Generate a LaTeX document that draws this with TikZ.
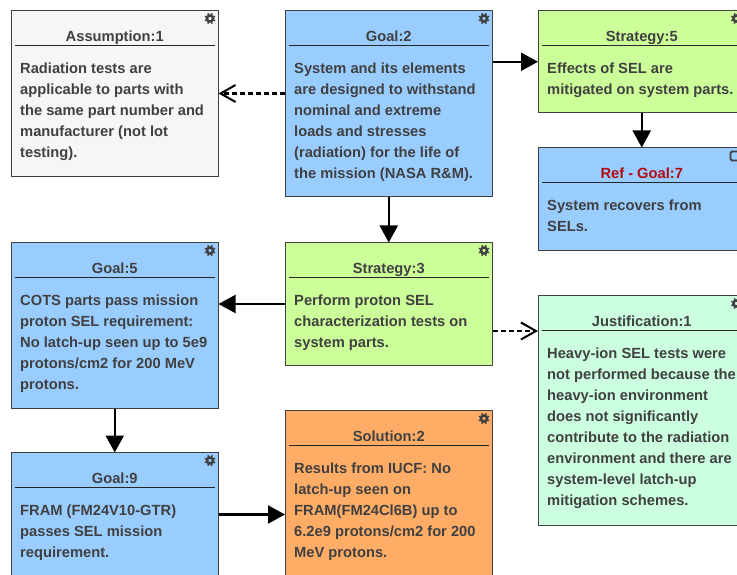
\documentclass[tikz,border=0pt]{standalone}
\usepackage{fontspec}
\setmainfont{Liberation Sans}
\usepackage{xcolor}
\usetikzlibrary{calc}
\usetikzlibrary{arrows.meta}

\definecolor{goalBlue}{HTML}{99CCFF}
\definecolor{stratGreen}{HTML}{CCFF99}
\definecolor{solOrange}{HTML}{FFAD66}
\definecolor{justMint}{HTML}{CCFFE0}
\definecolor{assumGrey}{HTML}{F6F6F6}
\definecolor{inkGrey}{HTML}{404040}
\definecolor{refRed}{HTML}{B00C14}

\tikzset{
  gsnBox/.style = {draw = black!75, line width = 1pt, anchor = north west,
    minimum width = 207.5pt, inner sep = 0pt, outer sep = 0pt},
  gsnText/.style = {text = inkGrey, font = \bfseries\fontsize{14.7}{21}\selectfont,
    inner sep = 0pt},
  solidArrow/.style = {line width = 2.2pt, black, -{Triangle[length = 17pt, width = 18pt]}},
  dashArrow/.style = {line width = 2.2pt, black, dash pattern = on 5pt off 3pt,
    -{Straight Barb[length = 15pt, width = 17pt, line width = 2pt]}},
  gearIcon/.pic = {
    \draw[black!75, line width = 2.4pt] (0,0) circle (3pt);
    \foreach \ang in {22,67,...,337}
      \draw[black!75, line width = 1.5pt] (\ang:3.5pt) -- (\ang:5.6pt);
  }
}

% box with heading, rule and body text
\newcommand{\gsnTexts}[3]{
  \node[gsnText, anchor = base, #3] (#1Title) at ($(#1.north) + (0,-30.7)$) {#2};
  \draw[black!85, line width = .9pt]
    ($(#1.north west) + (4,-35.2)$) -- ($(#1.north east) + (-4,-35.2)$);
}

\begin{document}
\begin{tikzpicture}[x = 1pt, y = 1pt]
  \useasboundingbox (0,0) rectangle (737,-575);
  \clip (0,0) rectangle (737,-575);

% boxes
  \node[gsnBox, fill = assumGrey, minimum height = 166pt] (assumOne) at (11,-10.5) {};
  \node[gsnBox, fill = goalBlue, minimum height = 186.5pt] (goalTwo) at (285,-10.5) {};
  \node[gsnBox, fill = stratGreen, minimum height = 102.5pt] (stratFive) at (538,-10.5) {};
  \node[gsnBox, fill = goalBlue, minimum height = 102.5pt] (refGoal) at (538,-147.5) {};
  \node[gsnBox, fill = goalBlue, minimum height = 166pt] (goalFive) at (11,-242.5) {};
  \node[gsnBox, fill = stratGreen, minimum height = 123pt] (stratThree) at (285,-242.5) {};
  \node[gsnBox, fill = justMint, minimum height = 230pt] (justOne) at (538,-295.5) {};
  \node[gsnBox, fill = goalBlue, minimum height = 124pt] (goalNine) at (11,-452.5) {};
  \node[gsnBox, fill = solOrange, minimum height = 208pt] (solTwo) at (285,-410.5) {};

% headings
  \gsnTexts{assumOne}{Assumption:1}{}
  \gsnTexts{goalTwo}{Goal:2}{}
  \gsnTexts{stratFive}{Strategy:5}{}
  \gsnTexts{refGoal}{Ref - Goal:7}{text = refRed}
  \gsnTexts{goalFive}{Goal:5}{}
  \gsnTexts{stratThree}{Strategy:3}{}
  \gsnTexts{justOne}{Justification:1}{}
  \gsnTexts{goalNine}{Goal:9}{}
  \gsnTexts{solTwo}{Solution:2}{}

% icons
  \pic at ($(assumOne.north east) + (-8.5,-8)$) {gearIcon};
  \pic at ($(goalTwo.north east) + (-8.5,-8)$) {gearIcon};
  \pic at ($(stratFive.north east) + (-9,-8)$) {gearIcon};
  \pic at ($(goalFive.north east) + (-8.5,-8)$) {gearIcon};
  \pic at ($(stratThree.north east) + (-8.5,-8)$) {gearIcon};
  \pic at ($(justOne.north east) + (-9,-8)$) {gearIcon};
  \pic at ($(goalNine.north east) + (-8.5,-8)$) {gearIcon};
  \pic at ($(solTwo.north east) + (-8.5,-8)$) {gearIcon};
  \draw[black!75, line width = 1.8pt, rounded corners = 1.5pt]
    ($(refGoal.north east) + (-15,-4)$) rectangle ++(12,-9);

% body text
  \node[gsnText, anchor = north west, align = left] (assumBody) at ($(assumOne.north west) + (9,-52)$)
    {Radiation tests are\\applicable to parts with\\the same part number and\\manufacturer (not lot\\testing).};
  \node[gsnText, anchor = north west, align = left] (goalTwoBody) at ($(goalTwo.north west) + (9,-52)$)
    {System and its elements\\are designed to withstand\\nominal and extreme\\loads and stresses\\(radiation) for the life of\\the mission (NASA R\&M).};
  \node[gsnText, anchor = north west, align = left] (stratFiveBody) at ($(stratFive.north west) + (9,-52)$)
    {Effects of SEL are\\mitigated on system parts.};
  \node[gsnText, anchor = north west, align = left] (refGoalBody) at ($(refGoal.north west) + (9,-52)$)
    {System recovers from\\SELs.};
  \node[gsnText, anchor = north west, align = left] (goalFiveBody) at ($(goalFive.north west) + (9,-52)$)
    {COTS parts pass mission\\proton SEL requirement:\\No latch-up seen up to 5e9\\protons/cm2 for 200 MeV\\protons.};
  \node[gsnText, anchor = north west, align = left] (stratThreeBody) at ($(stratThree.north west) + (9,-52)$)
    {Perform proton SEL\\characterization tests on\\system parts.};
  \node[gsnText, anchor = north west, align = left] (justBody) at ($(justOne.north west) + (9,-52)$)
    {Heavy-ion SEL tests were\\not performed because the\\heavy-ion environment\\does not significantly\\contribute to the radiation\\environment and there are\\system-level latch-up\\mitigation schemes.};
  \node[gsnText, anchor = north west, align = left] (goalNineBody) at ($(goalNine.north west) + (9,-52)$)
    {FRAM (FM24V10-GTR)\\passes SEL mission\\requirement.};
  \node[gsnText, anchor = north west, align = left] (solBody) at ($(solTwo.north west) + (9,-52)$)
    {Results from IUCF: No\\latch-up seen on\\FRAM(FM24Cl6B) up to\\6.2e9 protons/cm2 for 200\\MeV protons.};

% connectors
  \draw[dashArrow] (goalTwo.west |- assumOne) -- (assumOne.east);
  \draw[solidArrow] (goalTwo.east |- stratFive) -- (stratFive.west);
  \draw[solidArrow] (stratFive.south) -- (refGoal.north);
  \draw[solidArrow] (goalTwo.south) -- (stratThree.north);
  \draw[solidArrow] (stratThree.west) -- (goalFive.east |- stratThree);
  \coordinate (justFrom) at ($(stratThree.east) + (0,-27)$);
  \draw[dashArrow] (justFrom) -- (justFrom -| justOne.west);
  \draw[solidArrow] (goalFive.south) -- (goalNine.north);
  \draw[solidArrow] (goalNine.east) -- (solTwo.west);

\end{tikzpicture}
\end{document}
